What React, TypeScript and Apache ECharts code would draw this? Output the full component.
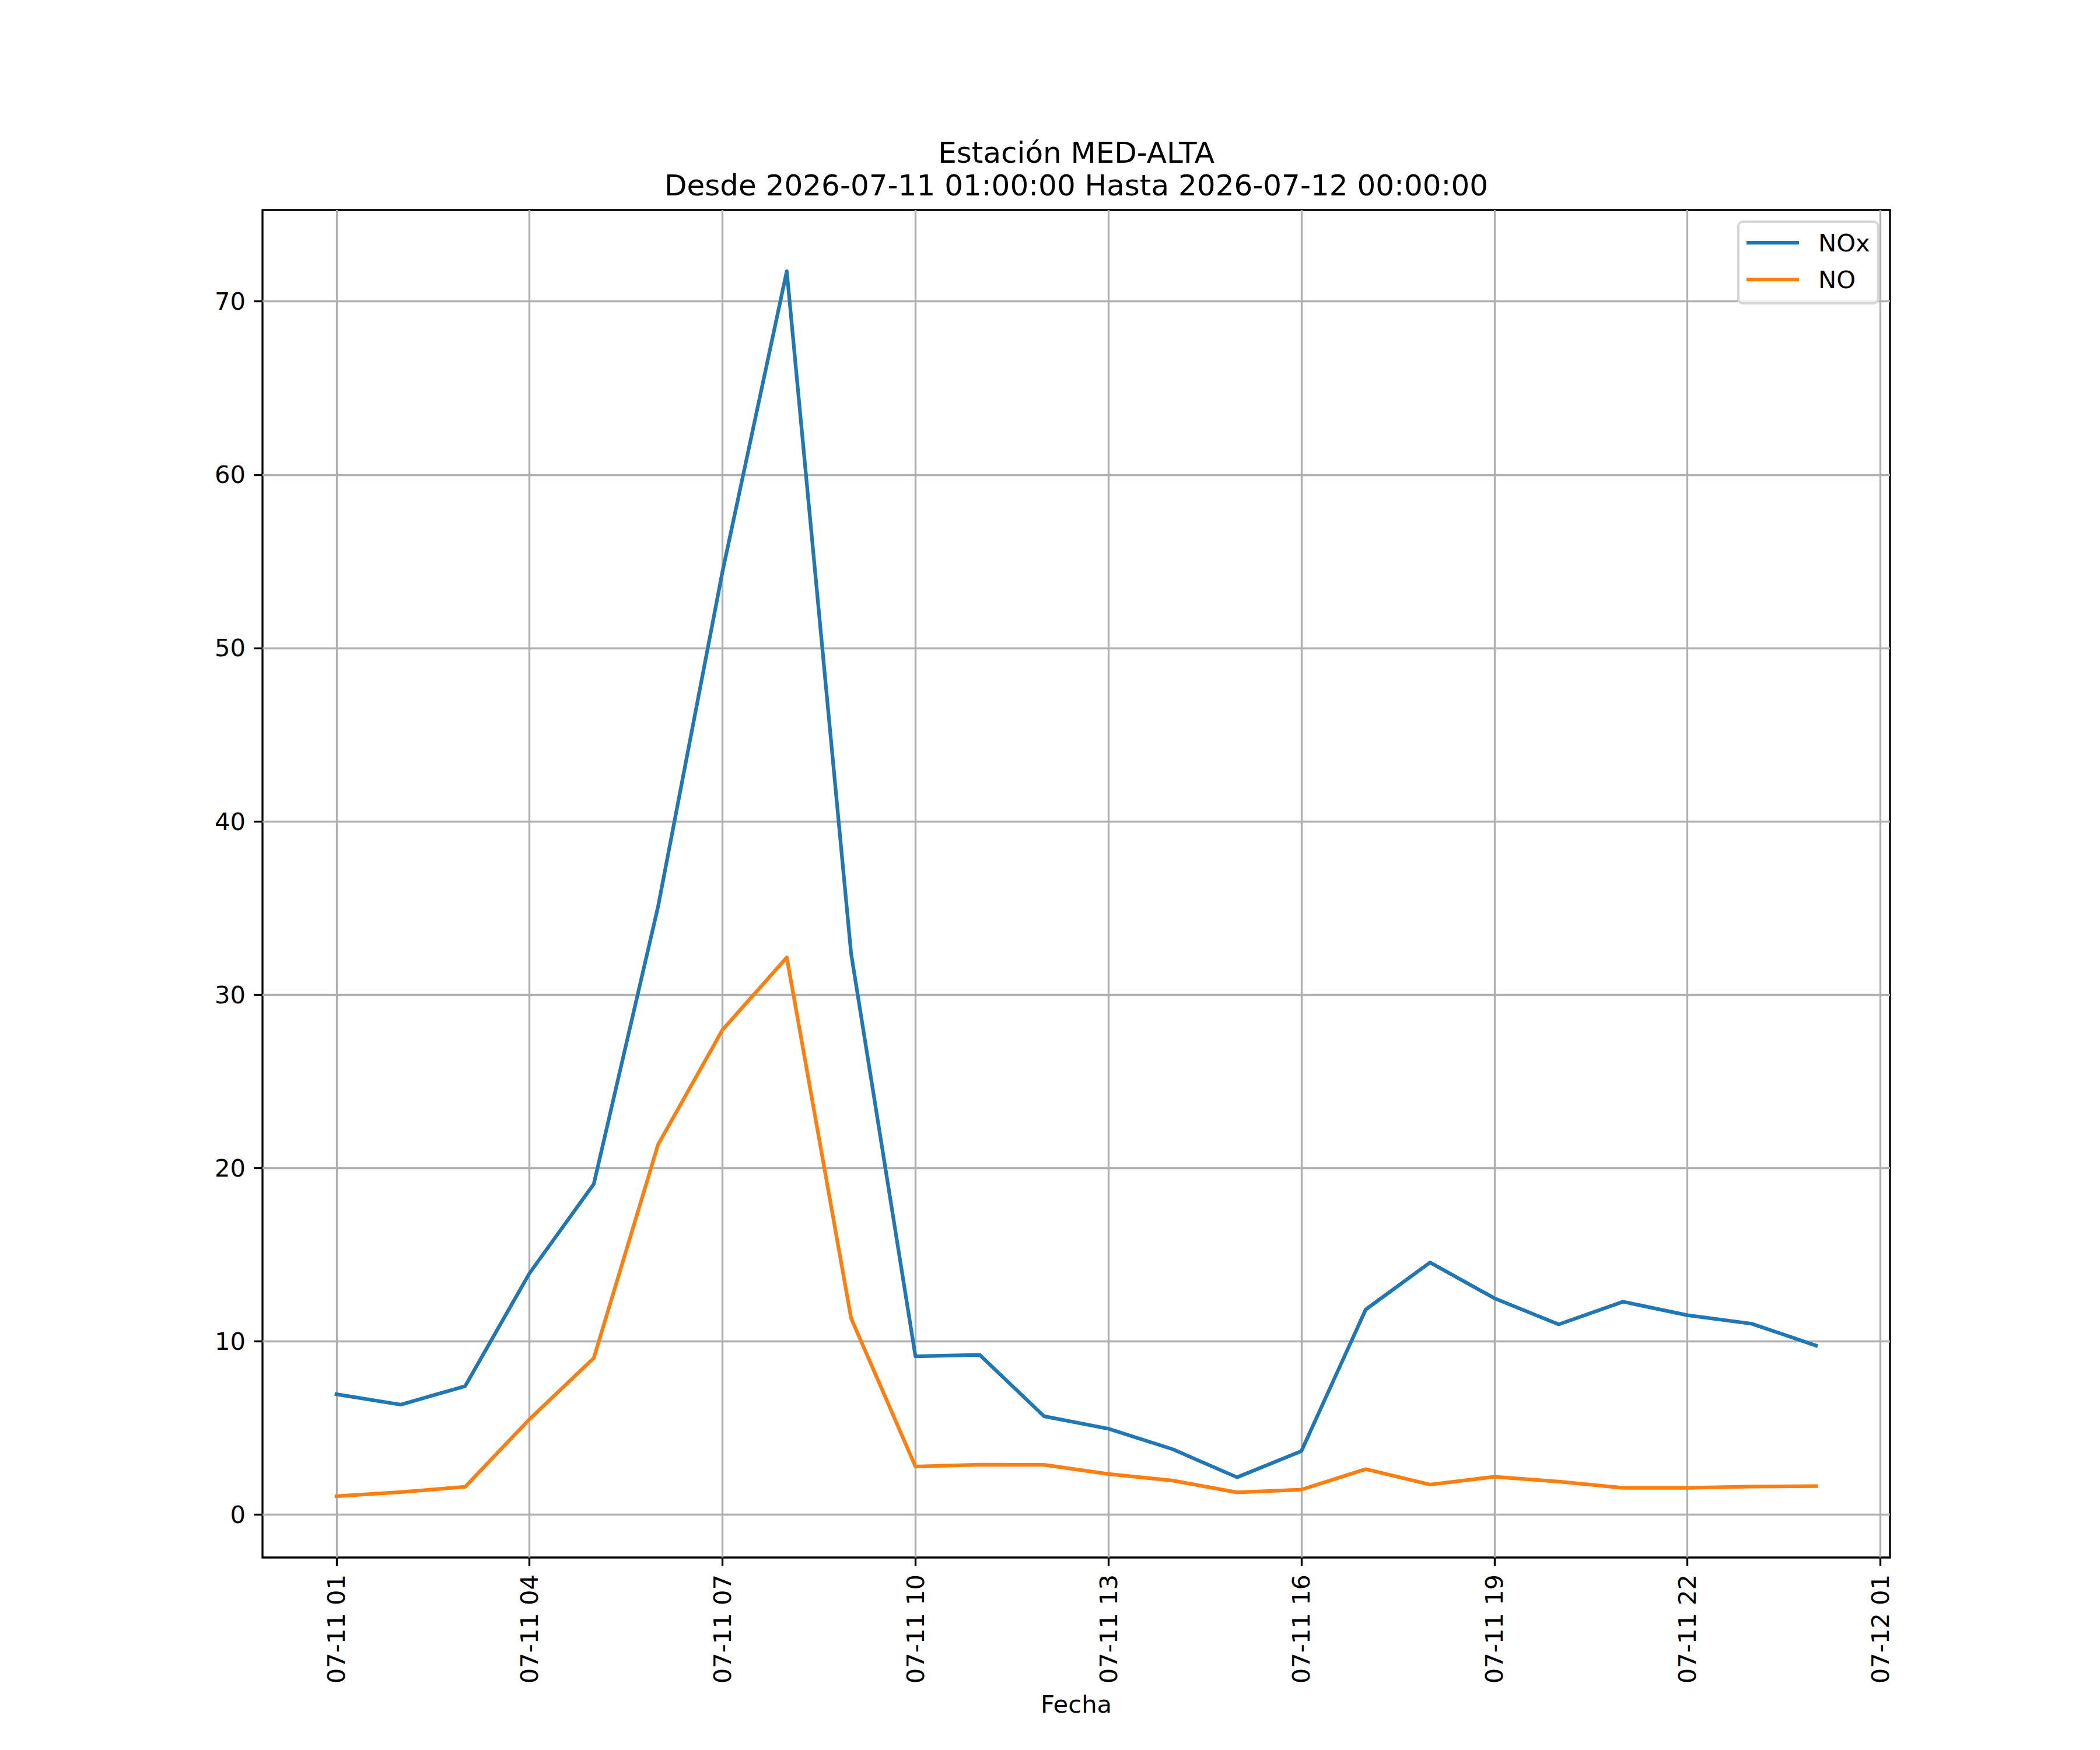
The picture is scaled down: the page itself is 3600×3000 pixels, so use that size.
import React, { useEffect, useRef } from "react";
import * as echarts from "echarts";

// Hours since 2026-07-11 00:00
const hours = [1, 2, 3, 4, 5, 6, 7, 8, 9, 10, 11, 12, 13, 14, 15, 16, 17, 18, 19, 20, 21, 22, 23, 24];
const noxValues = [6.95, 6.35, 7.42, 13.93, 19.08, 35.1, 54.4, 71.74, 32.38, 9.14, 9.22, 5.68, 4.96, 3.78, 2.16, 3.67, 11.84, 14.55, 12.49, 10.98, 12.29, 11.51, 11.02, 9.76];
const noValues = [1.07, 1.31, 1.61, 5.51, 9.04, 21.36, 27.97, 32.15, 11.34, 2.78, 2.89, 2.88, 2.35, 1.97, 1.29, 1.45, 2.63, 1.74, 2.19, 1.91, 1.55, 1.55, 1.63, 1.65];
const xTickHours = [1, 4, 7, 10, 13, 16, 19, 22, 25];
const xTickLabels = ["07-11 01", "07-11 04", "07-11 07", "07-11 10", "07-11 13", "07-11 16", "07-11 19", "07-11 22", "07-12 01"];
const yTicks = [0, 10, 20, 30, 40, 50, 60, 70];
const seriesNames = ["NOx", "NO"];
const titleLines = ["Estación MED-ALTA", "Desde 2026-07-11 01:00:00 Hasta 2026-07-12 00:00:00"];
const xAxisName = "Fecha";

const FONT = "DejaVu Sans";
const FS = 41.67;

export default function App() {
  const ref = useRef<HTMLDivElement>(null);
  useEffect(() => {
    document.body.style.margin = "0";
    if (!ref.current) return;
    const chart = echarts.init(ref.current, undefined, { renderer: "svg" });
    const pairs = (vals: number[]) => hours.map((h, i) => [h, vals[i]]);
    chart.setOption({
      animation: false,
      backgroundColor: "#ffffff",
      textStyle: { fontFamily: FONT },
      graphic: [
        {
          type: "text",
          x: 1845,
          y: 234,
          style: {
            text: titleLines.join("\n"),
            align: "center",
            verticalAlign: "top",
            fontFamily: FONT,
            fontSize: 50,
            lineHeight: 56,
            fill: "#000",
          },
        },
      ],
      legend: {
        data: seriesNames,
        orient: "vertical",
        left: 2980,
        top: 380,
        icon: "rect",
        itemWidth: 90,
        itemHeight: 6.25,
        itemGap: 21,
        padding: [15, 14, 20, 14],
        borderColor: "#d6d6d6",
        borderWidth: 4,
        borderRadius: 8,
        backgroundColor: "rgba(255,255,255,0.8)",
        textStyle: {
          fontFamily: FONT,
          fontSize: FS,
          color: "#000",
          lineHeight: 42,
          padding: [0, 0, 0, 28],
        },
      },
      grid: {
        left: 450,
        right: 360,
        top: 360,
        bottom: 330,
        show: true,
        borderColor: "#000",
        borderWidth: 3.33,
        backgroundColor: "transparent",
      },
      xAxis: {
        type: "value",
        min: -0.15,
        max: 25.15,
        name: xAxisName,
        nameLocation: "middle",
        nameGap: 230,
        nameTextStyle: { fontFamily: FONT, fontSize: FS, color: "#000" },
        axisLine: { show: false, onZero: false },
        axisTick: {
          show: true,
          inside: false,
          length: 14.6,
          lineStyle: { color: "#000", width: 3.33 },
          customValues: xTickHours,
        },
        axisLabel: {
          customValues: xTickHours,
          rotate: 90,
          margin: 29,
          fontFamily: FONT,
          fontSize: FS,
          color: "#000",
          formatter: (v: number) => {
            const i = xTickHours.indexOf(Math.round(v));
            return i >= 0 ? xTickLabels[i] : "";
          },
        },
        splitLine: { show: true, lineStyle: { color: "#b0b0b0", width: 3.33 } },
      },
      yAxis: {
        type: "value",
        min: -2.467,
        max: 75.27,
        axisLine: { show: false, onZero: false },
        axisTick: {
          show: true,
          inside: false,
          length: 14.6,
          lineStyle: { color: "#000", width: 3.33 },
          customValues: yTicks,
        },
        axisLabel: {
          customValues: yTicks,
          margin: 29,
          fontFamily: FONT,
          fontSize: FS,
          color: "#000",
        },
        splitLine: { show: true, lineStyle: { color: "#b0b0b0", width: 3.33 } },
      },
      series: [
        {
          name: seriesNames[0],
          type: "line",
          data: pairs(noxValues),
          showSymbol: false,
          symbol: "none",
          color: "#1f77b4",
          lineStyle: { color: "#1f77b4", width: 6.25, cap: "square", join: "round" },
          z: 3,
        },
        {
          name: seriesNames[1],
          type: "line",
          data: pairs(noValues),
          showSymbol: false,
          symbol: "none",
          color: "#ff7f0e",
          lineStyle: { color: "#ff7f0e", width: 6.25, cap: "square", join: "round" },
          z: 3,
        },
      ],
    });
    return () => chart.dispose();
  }, []);
  return <div ref={ref} style={{ width: 3600, height: 3000 }} />;
}
